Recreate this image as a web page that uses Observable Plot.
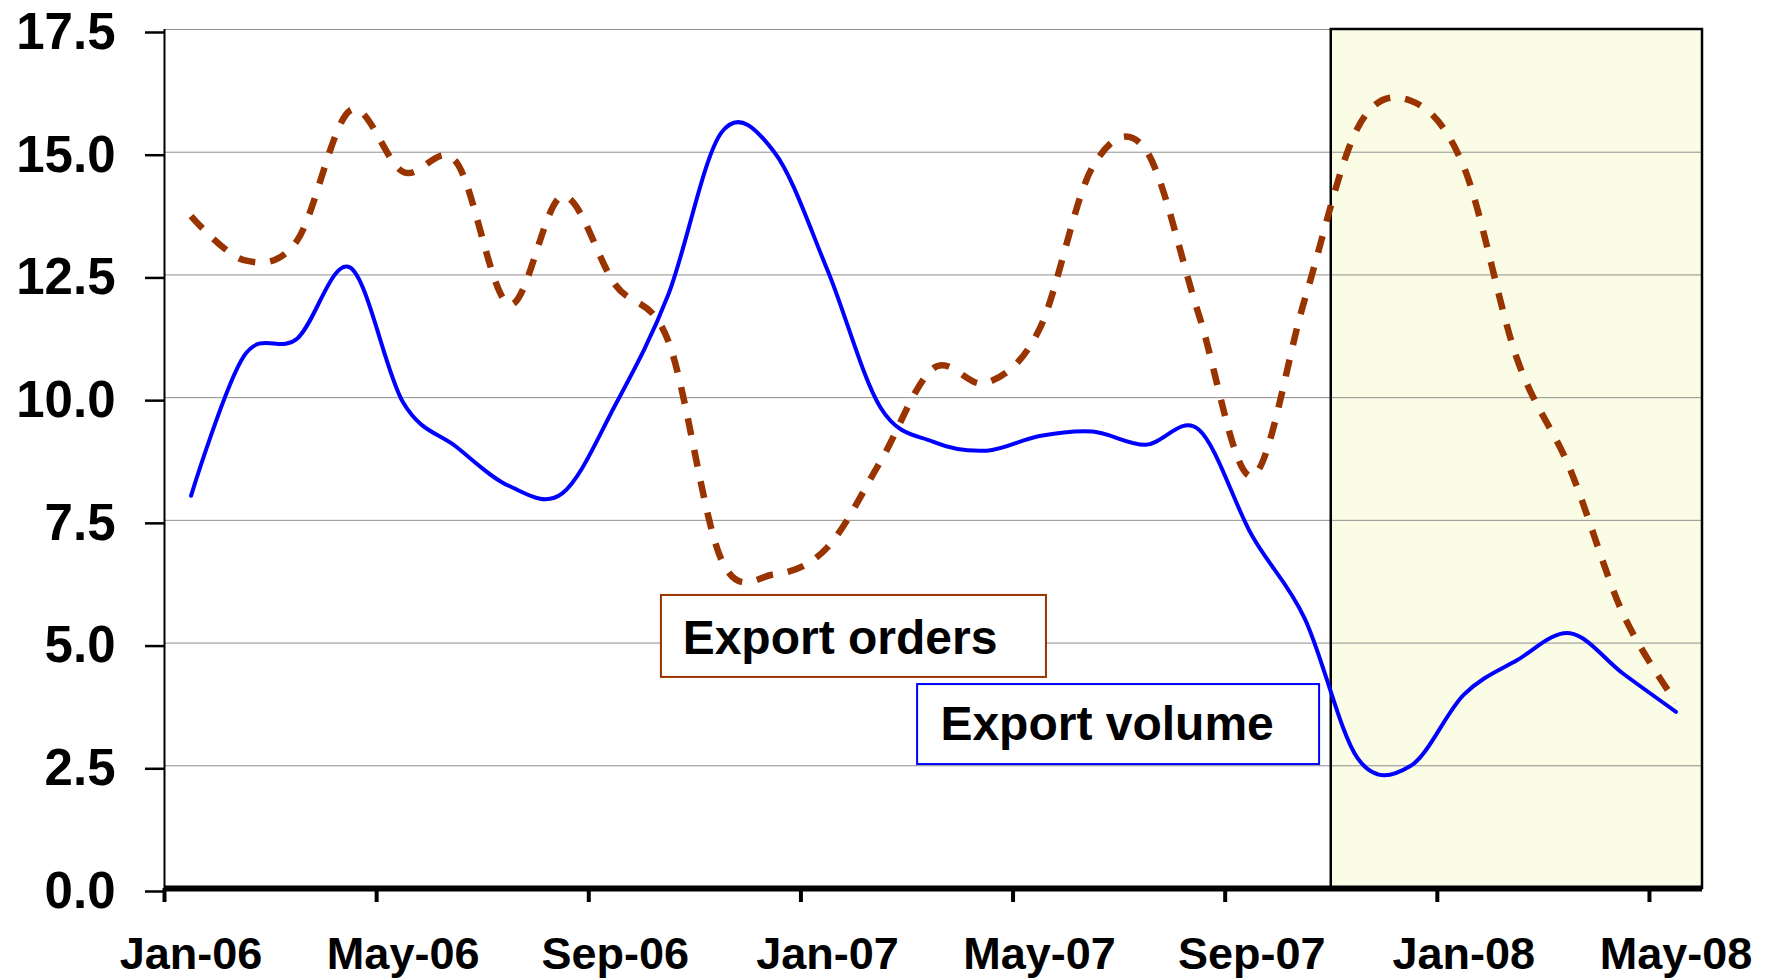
<!DOCTYPE html>
<html>
<head>
<meta charset="utf-8">
<script src="https://cdn.jsdelivr.net/npm/d3@7"></script>
<script src="https://cdn.jsdelivr.net/npm/@observablehq/plot@0.6"></script>
<style>
  html, body { margin: 0; padding: 0; background: #fff; }
  #chart svg { display: block; }
</style>
</head>
<body>
<div id="chart"></div>
<script>
// ---- Data ----
const months = [
  "Jan-06","Feb-06","Mar-06","Apr-06","May-06","Jun-06","Jul-06","Aug-06","Sep-06","Oct-06","Nov-06","Dec-06",
  "Jan-07","Feb-07","Mar-07","Apr-07","May-07","Jun-07","Jul-07","Aug-07","Sep-07","Oct-07","Nov-07","Dec-07",
  "Jan-08","Feb-08","Mar-08","Apr-08","May-08"
];
const exportVolume = [
  8.0, 10.85, 11.2, 12.65, 9.9, 9.0, 8.2, 8.05, 9.85, 12.1, 15.4, 15.0,
  12.6, 9.8, 9.1, 8.92, 9.22, 9.31, 9.04, 9.35, 7.2, 5.5, 2.65, 2.5,
  3.95, 4.65, 5.2, 4.38, 3.6
];
const exportOrders = [
  13.7, 12.8, 13.2, 15.85, 14.6, 14.8, 11.9, 14.1, 12.3, 11.15, 6.7, 6.4,
  6.95, 8.7, 10.6, 10.3, 11.4, 14.7, 15.05, 11.7, 8.4, 12.0, 15.5, 16.05,
  14.7, 10.8, 8.55, 5.6, 3.8
];
const yTicks = [0, 2.5, 5, 7.5, 10, 12.5, 15, 17.5];
const xTickLabels = ["Jan-06","May-06","Sep-06","Jan-07","May-07","Sep-07","Jan-08","May-08"];
const seriesNames = ["Export orders", "Export volume"];
const seriesColors = ["#993300", "#0000ff"];
const shadeFrom = "Nov-07";
const shadeTo = "May-08";

// ---- Build table ----
const idx = m => months.indexOf(m);
const data = months.map((m, i) => ({i, month: m, volume: exportVolume[i], orders: exportOrders[i]}));
const shade = [{x1: idx(shadeFrom) - 0.5, x2: idx(shadeTo) + 0.5}];
const tickBoundaries = xTickLabels.map(m => idx(m) - 0.5);
const labelPositions = xTickLabels.map(m => idx(m));

const font = "'Liberation Sans', Arial, Helvetica, sans-serif";

const chart = Plot.plot({
  width: 1773,
  height: 980,
  marginLeft: 164,
  marginRight: 71,
  marginTop: 29,
  marginBottom: 92,
  style: {fontFamily: font, background: "white", overflow: "visible"},
  x: {domain: [-0.5, months.length - 0.5], axis: null},
  y: {domain: [0, 17.5], axis: null},
  marks: [
    // shaded period
    Plot.rect(shade, {x1: "x1", x2: "x2", y1: 0, y2: 17.5, fill: "#fbfce6"}),
    // gridlines
    Plot.ruleY(yTicks.filter(v => v > 0), {stroke: "#8f8f8f", strokeWidth: 1}),
    // shaded period border
    Plot.rect(shade, {x1: "x1", x2: "x2", y1: 0, y2: 17.5, fill: "none", stroke: "black", strokeWidth: 2.5}),
    // label boxes
    Plot.rect([seriesNames[0]], {x1: 8.87, x2: 16.13, y1: 4.30, y2: 5.97, fill: "white", stroke: seriesColors[0], strokeWidth: 2}),
    Plot.rect([seriesNames[1]], {x1: 13.70, x2: 21.28, y1: 2.525, y2: 4.155, fill: "white", stroke: seriesColors[1], strokeWidth: 2}),
    Plot.text([seriesNames[0]], {x: 9.27, y: 5.10, text: d => d, textAnchor: "start", lineAnchor: "middle", fontSize: 48, fontWeight: "bold", fill: "black"}),
    Plot.text([seriesNames[1]], {x: 14.13, y: 3.33, text: d => d, textAnchor: "start", lineAnchor: "middle", fontSize: 48, fontWeight: "bold", fill: "black"}),
    // series
    Plot.line(data, {x: "i", y: "orders", stroke: seriesColors[0], strokeWidth: 6.5, strokeDasharray: "17,15", strokeLinecap: "butt", curve: "cardinal", tension: 0}),
    Plot.line(data, {x: "i", y: "volume", stroke: seriesColors[1], strokeWidth: 4, curve: "cardinal", tension: 0}),
    // y axis
    Plot.ruleX([-0.5], {stroke: "black", strokeWidth: 2}),
    Plot.axisY({ticks: yTicks, tickFormat: d => d.toFixed(1), tickSize: 19, tickPadding: 30, strokeWidth: 2.5,
                fontSize: 51, fontWeight: "bold", fill: "black", stroke: "black", dy: 3, label: null}),
    // x axis
    Plot.ruleY([0], {stroke: "black", strokeWidth: 6}),
    Plot.axisX({ticks: tickBoundaries, tickFormat: () => "", tickSize: 14, strokeWidth: 4, stroke: "black", label: null}),
    Plot.axisX({ticks: labelPositions, tickFormat: i => months[i], tickSize: 0, tickPadding: 49,
                fontSize: 45, fontWeight: "bold", fill: "black", label: null})
  ]
});

document.getElementById("chart").appendChild(chart);
</script>
</body>
</html>
